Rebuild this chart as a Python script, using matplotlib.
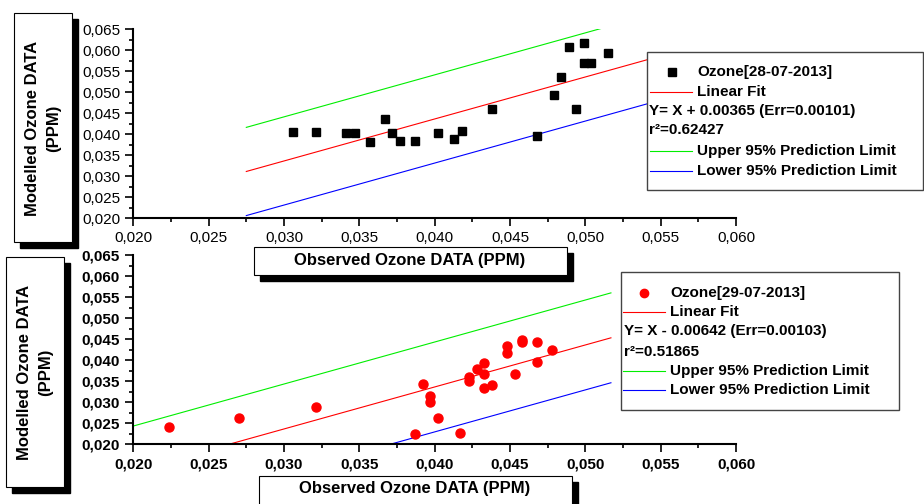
# Observed vs modelled ozone, two days

import matplotlib
matplotlib.use('Agg')
import matplotlib.pyplot as plt
from matplotlib.patches import Rectangle
from matplotlib.lines import Line2D
from matplotlib.ticker import MultipleLocator, FuncFormatter
import matplotlib.transforms as mtransforms

plt.rcParams['font.family'] = ['Liberation Sans', 'DejaVu Sans']

# data
obs_28 = [0.0306, 0.0321, 0.0341, 0.0347, 0.0357, 0.0367, 0.0372, 0.0377, 0.0387, 0.0402, 0.0413,
          0.0418, 0.0438, 0.0468, 0.0479, 0.0484, 0.0489, 0.0494, 0.0499, 0.0499, 0.0504, 0.0515]
mod_28 = [0.0406, 0.0406, 0.0404, 0.0404, 0.0382, 0.0437, 0.0402, 0.0385, 0.0383, 0.0403, 0.0390,
          0.0408, 0.0460, 0.0396, 0.0494, 0.0536, 0.0609, 0.0461, 0.0617, 0.0569, 0.0569, 0.0593]

obs_29 = [0.0224, 0.0270, 0.0321, 0.0387, 0.0392, 0.0397, 0.0397, 0.0402, 0.0417, 0.0423, 0.0423, 0.0428,
          0.0433, 0.0433, 0.0433, 0.0438, 0.0448, 0.0448, 0.0453, 0.0458, 0.0458, 0.0468, 0.0468, 0.0478]
mod_29 = [0.0240, 0.0263, 0.0288, 0.0223, 0.0342, 0.0315, 0.0300, 0.0263, 0.0227, 0.0359, 0.0351, 0.0378,
          0.0392, 0.0366, 0.0333, 0.0340, 0.0433, 0.0416, 0.0367, 0.0447, 0.0443, 0.0443, 0.0396, 0.0425]

# fit lines and prediction limits (end points)
line_x_28 = [0.0275, 0.0545]
fit_28 = [0.03115, 0.05815]
upper_28 = [0.04165, 0.06865]
lower_28 = [0.02065, 0.04765]

line_x_29 = [0.020, 0.0517]
fit_29 = [0.01358, 0.04528]
upper_29 = [0.02428, 0.05598]
lower_29 = [0.00288, 0.03458]

legend_28 = ['Ozone[28-07-2013]', 'Linear Fit', 'Y= X + 0.00365 (Err=0.00101)', 'r\u00b2=0.62427',
             'Upper 95% Prediction Limit', 'Lower 95% Prediction Limit']
legend_29 = ['Ozone[29-07-2013]', 'Linear Fit', 'Y= X - 0.00642 (Err=0.00103)', 'r\u00b2=0.51865',
             'Upper 95% Prediction Limit', 'Lower 95% Prediction Limit']

W, H = 924, 504
fig = plt.figure(figsize=(W / 100, H / 100), dpi=100)
fig.patch.set_facecolor('white')
# pixel coordinates, y going down
pix = mtransforms.Affine2D().scale(1 / W, -1 / H).translate(0, 1) + fig.transFigure

ax1 = fig.add_axes([133.3 / W, 1 - 218.3 / H, (736 - 133.3) / W, 189 / H])
ax2 = fig.add_axes([133.3 / W, 1 - 444 / H, (736 - 133.3) / W, 189 / H])

comma = FuncFormatter(lambda v, p: f'{v:.3f}'.replace('.', ','))


def setup(ax, bold):
    ax.set_xlim(0.020, 0.060)
    ax.set_ylim(0.020, 0.065)
    for s in ['top', 'right']:
        ax.spines[s].set_visible(False)
    for s in ['left', 'bottom']:
        ax.spines[s].set_linewidth(1.5)
    ax.xaxis.set_major_locator(MultipleLocator(0.005))
    ax.xaxis.set_minor_locator(MultipleLocator(0.0025))
    ax.yaxis.set_major_locator(MultipleLocator(0.005))
    ax.yaxis.set_minor_locator(MultipleLocator(0.0025))
    ax.xaxis.set_major_formatter(comma)
    ax.yaxis.set_major_formatter(comma)
    ax.tick_params(which='major', direction='out', length=5.5, width=1.2, labelsize=11, pad=4)
    ax.tick_params(which='minor', direction='out', length=3, width=1.2)
    ax.patch.set_alpha(0)
    if bold:
        for lab in ax.get_xticklabels() + ax.get_yticklabels():
            lab.set_fontweight('bold')


setup(ax1, False)
ax1.plot(line_x_28, upper_28, color='#00ee00', lw=0.8)
ax1.plot(line_x_28, fit_28, color='red', lw=0.8)
ax1.plot(line_x_28, lower_28, color='blue', lw=0.8)
ax1.plot(obs_28, mod_28, 's', color='black', ms=5.8, zorder=5)

setup(ax2, True)
ax2.plot(line_x_29, upper_29, color='#00ee00', lw=0.8)
ax2.plot(line_x_29, fit_29, color='red', lw=0.8)
ax2.plot(line_x_29, lower_29, color='blue', lw=0.8)
ax2.plot(obs_29, mod_29, 'o', color='red', ms=6.5, zorder=5)


def label_box(x0, y0, x1, y1, text, rot, cx, cy):
    fig.add_artist(Rectangle((x0 + 6, y0 + 6), x1 - x0, y1 - y0, transform=pix,
                             facecolor='black', edgecolor='black', zorder=3))
    fig.add_artist(Rectangle((x0, y0), x1 - x0, y1 - y0, transform=pix,
                             facecolor='white', edgecolor='black', lw=0.8, zorder=4))
    fig.text(cx, cy, text, transform=pix, rotation=rot, ha='center', va='center',
             fontsize=12, fontweight='bold', linespacing=1.45, zorder=5)


label_box(14, 13, 72, 242, 'Modelled Ozone DATA\n(PPM)', 90, 43, 128)
label_box(6, 257, 64, 487, 'Modelled Ozone DATA\n(PPM)', 90, 35, 372)
label_box(254, 247, 567, 275, 'Observed Ozone DATA (PPM)', 0, 410, 261)
label_box(259, 476, 572, 520, 'Observed Ozone DATA (PPM)', 0, 415, 489)


def legend_box(x0, y0, x1, y1, texts, marker, mcolor, mx, lx0, lx1, tx, fx, rows):
    fig.add_artist(Rectangle((x0, y0), x1 - x0, y1 - y0, transform=pix,
                             facecolor='white', edgecolor='#444444', lw=1.0, zorder=4))
    fig.add_artist(Line2D([mx], [rows[0]], transform=pix, marker=marker, color=mcolor,
                          ms=6, ls='none', zorder=5))
    for i, c in [(1, 'red'), (4, '#00ee00'), (5, 'blue')]:
        fig.add_artist(Line2D([lx0, lx1], [rows[i], rows[i]], transform=pix, color=c, lw=0.8, zorder=5))
    for i, t in enumerate(texts):
        x = fx if i in (2, 3) else tx
        fig.text(x, rows[i], t, transform=pix, ha='left', va='center', fontsize=11,
                 fontweight='bold', zorder=6)


legend_box(647, 52, 923, 190, legend_28, 's', 'black', 672, 650, 692, 697, 649,
           [72, 92, 111, 130, 151, 171])
legend_box(621, 272, 899, 410, legend_29, 'o', 'red', 644, 623, 665, 670, 624,
           [293, 312, 331, 352, 371, 390])

fig.savefig('out.png', dpi=100)
